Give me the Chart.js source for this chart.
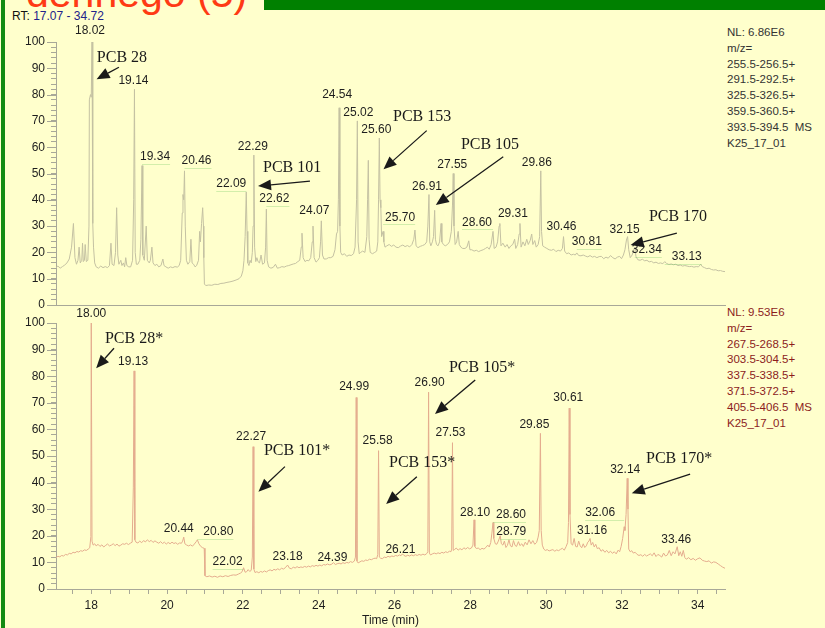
<!DOCTYPE html>
<html>
<head>
<meta charset="utf-8">
<script src="https://cdn.jsdelivr.net/npm/chart.js@4.4.1/dist/chart.umd.min.js"></script>
<style>
  html, body { margin: 0; padding: 0; }
  body { width: 825px; height: 628px; background: #ffffcc; position: relative; overflow: hidden;
         font-family: "Liberation Sans", Arial, sans-serif; }
  #leftbar { position: absolute; left: 1px; top: 0; width: 4px; height: 628px; background: #138a13; }
  #topbar { position: absolute; left: 264px; top: 0; width: 561px; height: 10px; background: #008000; }
  #title { position: absolute; left: 26px; top: -27px; font-size: 41px; line-height: 41px; color: #ff3a14; white-space: nowrap; }
  #rt { position: absolute; left: 12px; top: 9px; font-size: 12px; line-height: 14px; color: #111; white-space: nowrap; }
  #rt span { color: #22228a; }
  .info { position: absolute; left: 727px; font-size: 11.5px; line-height: 15.8px; white-space: pre; }
  #infoTop { top: 25px; color: #333; }
  #infoBot { top: 305px; color: #8c1c1c; }
  canvas { position: absolute; left: 0; }
  #cTop { top: 0; }
  #cBot { top: 300px; }
</style>
</head>
<body>
<div id="leftbar"></div>
<div id="topbar"></div>
<div id="title">dennego (5)</div>
<div id="rt">RT: <span>17.07 - 34.72</span></div>
<div class="info" id="infoTop"></div>
<div class="info" id="infoBot"></div>
<canvas id="cTop" width="825" height="320"></canvas>
<canvas id="cBot" width="825" height="328"></canvas>
<script>
// Retention-time window (min)
const rtStart = 17.07;
const rtEnd = 34.72;

// Axis tick values
const xMajorTicks = [18, 20, 22, 24, 26, 28, 30, 32, 34];
const yMajorTicks = [0, 10, 20, 30, 40, 50, 60, 70, 80, 90, 100];

// Trace header lines
const topInfo = ['NL: 6.86E6', 'm/z=', '255.5-256.5+', '291.5-292.5+', '325.5-326.5+', '359.5-360.5+', '393.5-394.5  MS', 'K25_17_01'];
const botInfo = ['NL: 9.53E6', 'm/z=', '267.5-268.5+', '303.5-304.5+', '337.5-338.5+', '371.5-372.5+', '405.5-406.5  MS', 'K25_17_01'];

// Upper trace: [time (min), relative abundance]
const topTrace = [
  [17.07,14.2],[17.12,14.8],[17.18,14.0],[17.24,14.6],[17.30,15.2],[17.36,16.0],[17.42,17.5],[17.48,22],[17.53,31],[17.57,18],
  [17.61,15.5],[17.65,17],[17.68,22],[17.71,16],[17.75,17],[17.77,23.5],[17.79,16.5],[17.82,17],[17.84,23],[17.87,16.5],
  [17.91,17],[17.94,30],[17.95,78],[17.98,80],[18.00,79],[18.02,100],[18.035,45],[18.045,31],[18.06,22],[18.09,16],
  [18.13,14.5],[18.19,14],[18.25,14.8],[18.31,14.2],[18.37,14.6],[18.43,14.2],[18.48,15],[18.52,23.5],[18.55,15.5],[18.60,15],
  [18.64,20],[18.67,37],[18.70,19],[18.73,15.5],[18.78,17],[18.81,15],[18.85,16],[18.88,14.5],[18.91,18],[18.94,15],
  [18.99,14.5],[19.04,14.5],[19.09,17],[19.12,40],[19.14,82],[19.16,20],[19.19,15.5],[19.23,15.5],[19.28,17],[19.31,25],
  [19.34,53],[19.36,19],[19.40,17],[19.45,30],[19.48,17],[19.53,16],[19.56,17],[19.60,22],[19.63,16],[19.68,15],
  [19.73,15.5],[19.78,14.5],[19.84,15],[19.89,17.5],[19.92,15],[19.97,14.5],[20.03,14],[20.09,14.5],[20.15,14.2],[20.21,14.6],
  [20.27,14.4],[20.32,15],[20.36,17],[20.40,35],[20.42,42],[20.44,40],[20.46,51],[20.48,30],[20.51,17],[20.55,15.5],
  [20.60,16.5],[20.63,25],[20.66,16],[20.70,15.5],[20.74,14.5],[20.78,15],[20.83,17],[20.86,28],[20.88,24],[20.91,31],
  [20.94,37],[20.96,30],[20.97,18],[20.985,8],[21.02,7.4],[21.10,7.6],[21.18,7.5],[21.26,7.9],[21.34,7.8],[21.42,8.2],
  [21.50,8.3],[21.58,8.6],[21.66,8.8],[21.74,9.1],[21.82,9.5],[21.90,10],[21.96,11],[22.00,13],[22.03,17],[22.06,26],
  [22.09,43],[22.11,28],[22.13,16],[22.16,15],[22.19,17],[22.22,16],[22.25,20],[22.27,30],[22.29,57],[22.31,22],
  [22.34,16.5],[22.37,18],[22.40,16.5],[22.44,16],[22.48,19],[22.52,15.5],[22.57,16],[22.60,22],[22.62,36.5],[22.64,17],
  [22.68,14.5],[22.74,14],[22.80,14.3],[22.86,15.5],[22.91,14],[22.97,14.2],[23.03,14.6],[23.09,14.4],[23.15,14.8],[23.21,15],
  [23.27,15.3],[23.33,15.6],[23.39,15.8],[23.45,16.5],[23.50,17],[23.54,22],[23.56,27.3],[23.59,18],[23.64,16.5],[23.69,17],
  [23.74,16.8],[23.79,18],[23.83,24],[23.85,30],[23.88,18],[23.93,16.3],[23.98,17],[24.02,18],[24.05,24],[24.07,32],
  [24.10,19],[24.14,17.5],[24.20,17.5],[24.26,18],[24.32,18],[24.38,18.5],[24.43,21],[24.47,27],[24.50,28],[24.52,40],
  [24.54,75],[24.56,30],[24.58,20],[24.62,19],[24.68,19.5],[24.74,18.5],[24.80,19],[24.86,18.8],[24.92,19.5],[24.96,22],
  [25.00,40],[25.02,70],[25.04,24],[25.07,19.5],[25.11,20],[25.16,20.5],[25.22,20],[25.27,26],[25.29,40],[25.31,55],
  [25.33,25],[25.36,20],[25.42,19.5],[25.48,20],[25.53,20.5],[25.56,24],[25.58,40],[25.60,63.5],[25.62,40],[25.64,37],
  [25.66,26],[25.70,28],[25.72,24],[25.75,22],[25.80,22.5],[25.86,23],[25.92,22.3],[25.98,22.8],[26.04,22],[26.10,21.8],
  [26.16,22.4],[26.22,22.8],[26.28,22.2],[26.34,22.6],[26.40,22.1],[26.46,23],[26.51,25],[26.54,28.5],[26.57,22.5],[26.62,21.8],
  [26.68,22.3],[26.74,22.6],[26.80,23],[26.85,24],[26.88,30],[26.91,42],[26.93,24],[26.96,22.5],[27.00,24],[27.03,26],
  [27.06,36],[27.08,25],[27.11,23],[27.15,22.5],[27.19,24],[27.23,31],[27.25,24],[27.29,23],[27.34,22.5],[27.40,23],
  [27.45,24],[27.50,28],[27.53,38],[27.55,50],[27.57,30],[27.60,23],[27.64,24],[27.68,28],[27.71,23],[27.75,22],
  [27.80,21.5],[27.86,21.5],[27.91,22],[27.96,24.4],[27.99,21],[28.04,21],[28.10,20.5],[28.16,20.8],[28.22,20.3],[28.28,20.7],
  [28.34,21],[28.40,21.5],[28.45,22],[28.50,21.2],[28.55,23],[28.60,28],[28.63,21.5],[28.68,22],[28.72,24],[28.76,30],
  [28.78,31],[28.81,22.5],[28.86,23.5],[28.92,22],[28.97,23],[29.02,21.5],[29.07,22.5],[29.12,23],[29.17,25],[29.20,21.5],
  [29.25,23],[29.29,27],[29.31,31],[29.34,22],[29.39,24],[29.44,22.5],[29.49,25],[29.53,23],[29.58,24.5],[29.62,27],
  [29.65,23],[29.70,24.5],[29.74,22],[29.79,23],[29.83,26],[29.86,51],[29.88,28],[29.91,22.5],[29.96,22],[30.02,21.5],
  [30.08,21],[30.14,20.8],[30.20,21.2],[30.26,20.3],[30.32,20.8],[30.38,20.5],[30.43,21.5],[30.46,26],[30.49,20.5],[30.54,19.5],
  [30.60,19.8],[30.66,19],[30.72,19.3],[30.77,19],[30.81,19.8],[30.86,18.8],[30.92,18.7],[30.98,19],[31.04,18.6],[31.10,18.3],
  [31.16,18.8],[31.22,18.2],[31.28,18.5],[31.34,18],[31.40,18.4],[31.46,18.5],[31.52,17.6],[31.58,18.2],[31.64,17.8],[31.70,18.8],
  [31.76,18],[31.82,17.5],[31.88,18.2],[31.94,18.5],[31.99,17.6],[32.04,19],[32.08,21],[32.12,24.7],[32.15,26],[32.18,21],
  [32.22,18],[32.27,19],[32.31,21],[32.34,22],[32.37,18.5],[32.42,17.2],[32.48,17],[32.54,17.4],[32.60,16.8],[32.66,17],
  [32.72,16.4],[32.78,16.6],[32.84,16],[32.90,16.3],[32.96,15.8],[33.02,16],[33.08,15.7],[33.13,16.5],[33.18,15.8],[33.24,15.4],
  [33.30,15.6],[33.36,15.3],[33.42,15.5],[33.48,15],[33.54,15.2],[33.60,14.8],[33.66,15],[33.72,14.8],[33.78,14.6],[33.84,14.7],
  [33.90,14.4],[33.96,14.6],[34.02,14.5],[34.08,15.5],[34.12,14.6],[34.18,14.2],[34.24,13.8],[34.30,14],[34.36,13.5],[34.42,13.3],
  [34.48,13.4],[34.54,13],[34.60,13.1],[34.66,12.8],[34.72,12.7]
];

// Lower trace: [time (min), relative abundance]
const botTrace = [
  [17.07,11.8],[17.12,12.3],[17.17,12.1],[17.22,12.6],[17.27,12.4],[17.32,13],[17.37,12.8],[17.42,13.4],[17.47,13.2],[17.52,13.8],
  [17.57,13.6],[17.62,14.1],[17.67,13.9],[17.72,14.4],[17.77,14.2],[17.82,14.7],[17.87,14.5],[17.92,15],[17.96,15.5],[17.99,19.7],
  [18.00,100],[18.02,18],[18.05,16.5],[18.09,17],[18.13,16.2],[18.18,16.8],[18.23,16],[18.28,16.6],[18.33,15.8],[18.38,16.4],
  [18.43,16.9],[18.48,16.2],[18.53,16.5],[18.58,17],[18.63,16.3],[18.68,16.9],[18.73,16.1],[18.78,16.5],[18.83,17],[18.88,16.8],
  [18.93,17.2],[18.98,16.7],[19.03,17.2],[19.08,17.6],[19.11,38],[19.13,82],[19.15,18.5],[19.18,17.6],[19.23,17.3],[19.28,18],
  [19.33,17.4],[19.38,18.2],[19.43,17.7],[19.48,18.5],[19.53,17.8],[19.58,18.3],[19.63,17.5],[19.68,18.1],[19.73,17.6],[19.78,17.2],
  [19.83,17.8],[19.88,17.1],[19.93,17.6],[19.98,16.9],[20.03,17.5],[20.08,17],[20.13,17.6],[20.18,17.1],[20.23,17.4],[20.28,16.8],
  [20.33,17.3],[20.38,17.2],[20.41,18],[20.44,19.5],[20.47,17],[20.52,16.5],[20.57,16.2],[20.62,16.6],[20.67,16.1],[20.72,16.9],
  [20.77,17.8],[20.80,18.5],[20.84,17],[20.89,16],[20.94,15.5],[20.98,15.3],[21.00,5],[21.05,4.6],[21.12,4.9],[21.19,4.5],
  [21.26,4.8],[21.33,4.4],[21.40,4.9],[21.47,4.6],[21.54,5],[21.61,4.7],[21.68,5.1],[21.75,5.3],[21.82,5.2],[21.88,5.6],
  [21.94,6],[21.98,6.5],[22.02,8],[22.06,6.3],[22.10,6.5],[22.14,7.3],[22.18,6.6],[22.22,7],[22.25,12],[22.27,53.5],
  [22.29,7.5],[22.32,6.2],[22.37,6.5],[22.42,6.1],[22.47,6.6],[22.52,6.3],[22.57,6.8],[22.62,6.4],[22.67,6.9],[22.72,7.2],
  [22.77,6.8],[22.82,7.4],[22.87,7.1],[22.92,7.6],[22.97,7.2],[23.02,7.8],[23.07,7.5],[23.12,8],[23.18,9],[23.23,7.8],
  [23.28,7.6],[23.33,8.2],[23.38,7.9],[23.43,8.4],[23.48,8],[23.53,8.3],[23.58,8.1],[23.63,8.5],[23.68,8.2],[23.73,8.6],
  [23.78,8.3],[23.83,8.8],[23.88,8.5],[23.93,8.9],[23.98,8.6],[24.03,9],[24.08,8.7],[24.13,9.2],[24.18,9],[24.23,9.4],
  [24.28,9.1],[24.33,9.2],[24.39,9.9],[24.44,9.2],[24.49,9.5],[24.54,9.7],[24.59,9.4],[24.64,9.9],[24.69,9.6],[24.74,10],
  [24.79,9.8],[24.84,10.3],[24.89,10],[24.94,10.5],[24.97,12],[24.99,72],[25.01,10.5],[25.04,9.8],[25.09,10.2],[25.14,10.6],
  [25.19,10.4],[25.24,10.9],[25.29,10.7],[25.34,11.2],[25.39,11],[25.44,11.4],[25.49,11.6],[25.53,11.4],[25.56,13],[25.58,52],
  [25.60,12],[25.63,11.6],[25.68,11.4],[25.73,12],[25.78,11.8],[25.83,12.3],[25.88,12],[25.93,12.4],[25.98,12.2],[26.03,12.6],
  [26.08,12.4],[26.13,12.8],[26.17,12.5],[26.21,13.2],[26.25,12.6],[26.30,12.3],[26.35,12.7],[26.40,12.4],[26.45,12.8],[26.50,12.5],
  [26.55,12.9],[26.60,12.6],[26.65,13],[26.70,12.7],[26.75,13.1],[26.80,12.8],[26.85,13.3],[26.88,14],[26.90,74],[26.92,13.5],
  [26.95,12.8],[27.00,13.2],[27.05,13.5],[27.10,13.2],[27.15,13.6],[27.20,13.3],[27.25,13.8],[27.30,13.5],[27.35,14],[27.40,13.7],
  [27.45,14.2],[27.49,14],[27.51,15],[27.53,55],[27.55,14.5],[27.58,14.8],[27.63,15.4],[27.68,14.6],[27.73,15.2],[27.78,14.7],
  [27.83,15.5],[27.88,15],[27.93,15.6],[27.98,15.1],[28.03,15.4],[28.07,16.5],[28.10,26],[28.12,16],[28.16,15.2],[28.21,15.4],
  [28.26,14.8],[28.31,15.3],[28.36,15],[28.41,15.6],[28.46,16.5],[28.50,15.8],[28.54,17.5],[28.57,21],[28.60,25],[28.62,19],
  [28.66,17],[28.70,16.8],[28.74,18],[28.79,20],[28.82,17],[28.86,16.5],[28.90,18],[28.94,15.6],[28.98,16.4],[29.02,18.5],
  [29.06,16.2],[29.10,15.8],[29.14,18.2],[29.18,16.4],[29.22,16],[29.27,17.8],[29.31,16.3],[29.36,17],[29.40,16],[29.45,17.6],
  [29.50,16.6],[29.55,18.5],[29.60,17],[29.65,18.2],[29.70,16.8],[29.75,17.5],[29.79,19.5],[29.82,22],[29.85,58.5],[29.87,22],
  [29.90,16.5],[29.94,15],[29.98,14.5],[30.03,14.8],[30.08,14.3],[30.13,14.6],[30.18,14.8],[30.23,14.2],[30.28,14.7],[30.33,14.4],
  [30.38,14.9],[30.43,15.3],[30.48,14.6],[30.53,16],[30.57,17.5],[30.59,25],[30.61,68],[30.63,28],[30.66,17],[30.70,16.5],
  [30.74,19],[30.78,16],[30.82,15.8],[30.86,18],[30.90,16.2],[30.94,15.5],[30.98,17],[31.02,15.6],[31.06,16.2],[31.10,17.6],
  [31.13,18],[31.16,19],[31.19,16.5],[31.23,17.5],[31.27,15.8],[31.31,16.8],[31.35,15.2],[31.40,15.5],[31.45,14.2],[31.50,14.8],
  [31.55,13.8],[31.60,14.5],[31.65,13.6],[31.70,14.2],[31.75,13.4],[31.80,14],[31.85,13.2],[31.90,14.6],[31.94,14],[31.98,16],
  [32.02,19],[32.06,23.4],[32.08,22],[32.11,28],[32.14,41.6],[32.16,30],[32.18,15],[32.22,14],[32.26,14.4],[32.30,13.5],
  [32.35,13.8],[32.40,13],[32.45,12.6],[32.50,12.9],[32.55,12.3],[32.60,13],[32.65,12.4],[32.70,12.8],[32.75,13.2],[32.80,12.5],
  [32.85,13.6],[32.90,12.2],[32.95,13],[33.00,12.6],[33.05,12],[33.10,13.5],[33.15,12.4],[33.20,12.8],[33.25,14.5],[33.30,12.5],
  [33.35,14],[33.40,13.2],[33.46,15.9],[33.50,12.5],[33.54,14],[33.58,12.3],[33.62,14.5],[33.66,11.8],[33.70,11.2],[33.76,11.8],
  [33.82,11],[33.88,11.5],[33.94,10.8],[34.00,11.4],[34.06,11.7],[34.12,10.8],[34.18,10.5],[34.24,10.3],[34.30,10.6],[34.36,9.7],
  [34.42,10.2],[34.48,10],[34.54,9.4],[34.60,8.8],[34.66,8.2],[34.72,7.8]
];

// Retention times that carry a label
const topPeakRTs = [18.02, 19.14, 19.34, 20.46, 22.09, 22.29, 22.62, 24.07, 24.54, 25.02, 25.60, 25.70, 26.91, 27.55, 28.60, 29.31, 29.86, 30.46, 30.81, 32.15, 32.34, 33.13];
const botPeakRTs = [18.00, 19.13, 20.44, 20.80, 22.02, 22.27, 23.18, 24.39, 24.99, 25.58, 26.21, 26.90, 27.53, 28.10, 28.60, 28.79, 29.85, 30.61, 31.16, 32.06, 32.14, 33.46];

// Compound names
const topCompounds = ['PCB 28', 'PCB 101', 'PCB 153', 'PCB 105', 'PCB 170'];
const botCompounds = ['PCB 28*', 'PCB 101*', 'PCB 153*', 'PCB 105*', 'PCB 170*'];

// ---- layout (pixel nudges for the RT labels, anchors for the compound callouts) ----
const topLabelShift = [[-2,-11],[-1,-9],[13,-9],[12,-10],[-15,-8],[-1,-8],[8,-10],[-7,-10],[-2,-13],[1,-8],[-3,-8],[17,-14],
                       [-2,-8],[-1,-9],[-16,-9],[-7,-10],[-4,-8],[-2,-10],[10,-11],[-3,-7],[12,3],[22,-5]];
const botLabelShift = [[0,-9],[-1,-9],[-5,-8],[21,-8],[-16,-6],[-2,-10],[0,-8],[-1,-5],[-2,-11],[-1,-10],[-2,-4],[1,-9],
                       [-2,-10],[1,-7],[18,-8],[11,-4],[-6,-9],[-1,-10],[2,-8],[-24,-14],[-2,-9],[-1,-7]];
// [text centre, arrow tail, arrow tip] in (time, abundance)
const topCallouts = [
  [[18.81,94],[18.73,90.4],[18.14,85.8]],
  [[23.30,52.1],[23.77,47.1],[22.40,45.2]],
  [[26.73,71.5],[26.85,66.3],[25.71,51.6]],
  [[28.52,60.8],[28.87,56.4],[27.09,38.0]],
  [[33.48,33.5],[33.45,27.3],[32.23,22.8]]
];
const botCallouts = [
  [[19.13,94],[18.60,90.5],[18.13,83]],
  [[23.43,51.9],[23.11,46],[22.41,36.6]],
  [[26.73,47.4],[26.59,42.2],[25.78,32]],
  [[28.31,83.1],[28.13,78.6],[27.07,65.8]],
  [[33.51,48.9],[33.80,43.2],[32.26,36]]
];

document.getElementById('infoTop').textContent = topInfo.join('\n');
document.getElementById('infoBot').textContent = botInfo.join('\n');

const AXIS_GRAY = '#a8a898';
const SANS = '"Liberation Sans", Arial, sans-serif';
const SERIF = '"Liberation Serif", "Times New Roman", serif';

Chart.defaults.font.family = SANS;
Chart.defaults.font.size = 12;
Chart.defaults.color = '#1e1e1e';

function drawArrow(ctx, x0, y0, x1, y1) {
  const ang = Math.atan2(y1 - y0, x1 - x0);
  const len = 13, half = 5.5;
  const bx = x1 - Math.cos(ang) * len, by = y1 - Math.sin(ang) * len;
  ctx.beginPath();
  ctx.moveTo(x0, y0);
  ctx.lineTo(bx, by);
  ctx.stroke();
  ctx.beginPath();
  ctx.moveTo(x1, y1);
  ctx.lineTo(bx + Math.sin(ang) * half, by - Math.cos(ang) * half);
  ctx.lineTo(bx - Math.sin(ang) * half, by + Math.cos(ang) * half);
  ctx.closePath();
  ctx.fill();
}

// Longer tick marks at the labelled abundance values
const majorTicks = {
  id: 'majorTicks',
  afterDraw(chart) {
    const ctx = chart.ctx, ys = chart.scales.y, left = chart.chartArea.left;
    ctx.save();
    ctx.strokeStyle = AXIS_GRAY;
    ctx.lineWidth = 1;
    yMajorTicks.forEach(v => {
      const y = Math.round(ys.getPixelForValue(v)) + 0.5;
      ctx.beginPath();
      ctx.moveTo(left - 9, y);
      ctx.lineTo(left, y);
      ctx.stroke();
    });
    ctx.restore();
  }
};

// Peak retention-time labels and compound callouts
const annotations = {
  id: 'annotations',
  afterDraw(chart, args, opts) {
    const ctx = chart.ctx, xs = chart.scales.x, ys = chart.scales.y;
    const pts = chart.data.datasets[0].data;
    ctx.save();
    ctx.font = '12px ' + SANS;
    ctx.textAlign = 'center';
    ctx.textBaseline = 'middle';
    opts.rts.forEach((rt, i) => {
      const p = pts.find(d => d.x === rt);
      const px = xs.getPixelForValue(rt), py = ys.getPixelForValue(p.y);
      const [dx, dy] = opts.shift[i];
      const lx = px + dx, ly = py + dy;
      const txt = rt.toFixed(2);
      const w = ctx.measureText(txt).width;
      if (Math.abs(dx) >= 8) {
        const far = dx > 0 ? lx + w / 2 : lx - w / 2;
        ctx.strokeStyle = 'rgba(130,205,110,0.35)';
        ctx.lineWidth = 1;
        ctx.beginPath();
        ctx.moveTo(px, Math.round(ly + 7) + 0.5);
        ctx.lineTo(far, Math.round(ly + 7) + 0.5);
        ctx.stroke();
      }
      ctx.fillStyle = '#1e1e1e';
      ctx.fillText(txt, lx, ly);
    });
    ctx.font = '16px ' + SERIF;
    ctx.fillStyle = '#1a1a1a';
    ctx.strokeStyle = '#1a1a1a';
    ctx.lineWidth = 1.3;
    opts.callouts.forEach((c, i) => {
      const [t, a, b] = c;
      ctx.fillText(opts.names[i], xs.getPixelForValue(t[0]), ys.getPixelForValue(t[1]));
      drawArrow(ctx, xs.getPixelForValue(a[0]), ys.getPixelForValue(a[1]),
                     xs.getPixelForValue(b[0]), ys.getPixelForValue(b[1]));
    });
    ctx.restore();
  }
};

function xHalfMinuteTicks(scale) {
  const ticks = [];
  for (let v = 17.5; v <= 34.5; v += 0.5) ticks.push({ value: v });
  scale.ticks = ticks;
}
function yTwoTicks(scale) {
  const ticks = [];
  for (let v = 0; v <= 100; v += 2) ticks.push({ value: v });
  scale.ticks = ticks;
}

function makeChart(canvasId, trace, color, padTop, xHeight, showX, rts, shift, names, callouts) {
  return new Chart(document.getElementById(canvasId), {
    type: 'line',
    data: {
      datasets: [{
        data: trace.map(p => ({ x: p[0], y: p[1] })),
        borderColor: color,
        borderWidth: 1,
        pointRadius: 0,
        fill: false,
        tension: 0
      }]
    },
    options: {
      responsive: false,
      animation: false,
      devicePixelRatio: 1,
      layout: { padding: { top: padTop, bottom: 0, left: 0, right: 100 } },
      plugins: {
        legend: { display: false },
        tooltip: { enabled: false },
        annotations: { rts: rts, shift: shift, names: names, callouts: callouts }
      },
      scales: {
        x: {
          type: 'linear',
          min: rtStart,
          max: rtEnd,
          afterBuildTicks: xHalfMinuteTicks,
          afterFit: s => { s.height = xHeight; },
          ticks: {
            display: showX,
            autoSkip: false,
            maxRotation: 0,
            padding: 4,
            font: { size: 12 },
            color: '#1e1e1e',
            callback: v => (xMajorTicks.includes(v) ? String(v) : '')
          },
          grid: { drawOnChartArea: false, drawTicks: showX, tickLength: 5, color: AXIS_GRAY },
          border: { display: true, color: AXIS_GRAY },
          title: { display: showX, text: 'Time (min)', font: { size: 12 }, color: '#1e1e1e', padding: { top: 0, bottom: 0 } }
        },
        y: {
          type: 'linear',
          min: 0,
          max: 100,
          afterBuildTicks: yTwoTicks,
          afterFit: s => { s.width = 56; },
          ticks: {
            autoSkip: false,
            padding: 6,
            font: { size: 12 },
            color: '#1e1e1e',
            callback: v => (yMajorTicks.includes(v) ? String(v) : '')
          },
          grid: { drawOnChartArea: false, tickLength: 5, color: AXIS_GRAY },
          border: { display: true, color: AXIS_GRAY }
        }
      }
    },
    plugins: [majorTicks, annotations]
  });
}

// Upper panel: plot area 42..305 px; lower panel: 323..589 px (page coordinates)
makeChart('cTop', topTrace, 'rgb(196,193,162)', 42, 15, false, topPeakRTs, topLabelShift, topCompounds, topCallouts);
makeChart('cBot', botTrace, 'rgb(228,172,142)', 23, 39, true, botPeakRTs, botLabelShift, botCompounds, botCallouts);
</script>
</body>
</html>
